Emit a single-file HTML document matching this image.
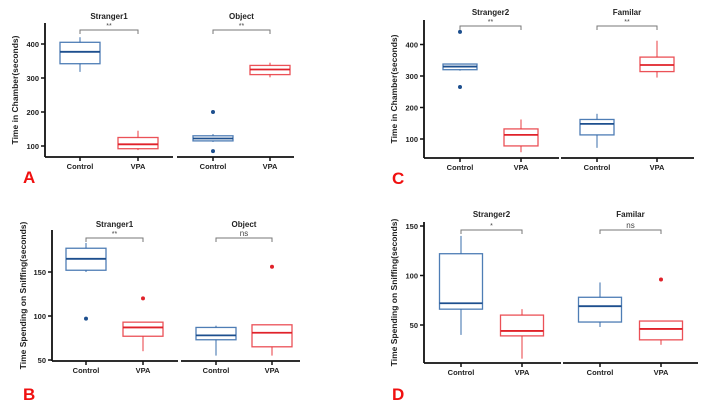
<!DOCTYPE html>
<html><head><meta charset="utf-8">
<style>
html,body{margin:0;padding:0;background:#fff;}
svg{display:block;font-family:"Liberation Sans",Arial,sans-serif;}
</style></head>
<body>
<svg id="fig" width="710" height="410" viewBox="0 0 710 410"></svg>
<script>
// ---- data ----
const groupLabels = ["Control","VPA"];
const aTitles = ["Stranger1","Object"];
const aStats = [ // [whiskerLo, q1, median, q3, whiskerHi]
  [318,342,377,405,420],[88,92,105,125,145],
  [112,115,122,130,135],[302,310,325,337,345]];
const aOutliers = [[],[],[200,85],[]];
const aSig = ["**","**"];
const aTicks = [100,200,300,400];

const bTitles = ["Stranger1","Object"];
const bStats = [[150,152,165,177,183],[60,77,87,93,93],[55,73,78,87,89],[55,65,81,90,90]];
const bOutliers = [[97],[120],[],[156]];
const bSig = ["**","ns"];
const bTicks = [50,100,150];

const cTitles = ["Stranger2","Familar"];
const cStats = [[317,320,330,338,338],[58,78,113,132,162],[72,113,148,162,180],[295,314,335,360,412]];
const cOutliers = [[440,265],[],[],[]];
const cSig = ["**","**"];
const cTicks = [100,200,300,400];

const dTitles = ["Stranger2","Familar"];
const dStats = [[40,66,72,122,140],[16,39,44,60,66],[48,53,69,78,93],[30,35,46,54,54]];
const dOutliers = [[],[],[],[96]];
const dSig = ["*","ns"];
const dTicks = [50,100,150];

const NS="http://www.w3.org/2000/svg";
const svg=document.getElementById('fig');
function mk(tag,attrs,parent){const e=document.createElementNS(NS,tag);for(const k in attrs)e.setAttribute(k,attrs[k]);(parent||svg).appendChild(e);return e;}

function panel(p){
  const g=mk('g',{});
  
  
  const y=v=>p.y0-(v-p.v0)*p.k;
  // y axis
  const ya=mk('line',{x1:p.ax,y1:p.top,x2:p.ax,y2:p.bot,stroke:'#111','stroke-width':1.8},g);
  
  
  p.ticks.forEach(t=>{
    mk('line',{x1:p.ax-4,y1:y(t),x2:p.ax,y2:y(t),stroke:'#111','stroke-width':1.5},g);
    const tx=mk('text',{x:p.ax-6,y:y(t)+3,'text-anchor':'end','font-size':7.5,'font-weight':'bold',fill:'#222'},g);
    tx.textContent=t;
    
    
  });
  const yl=mk('text',{transform:`translate(${p.ylx},${(p.top+p.bot)/2}) rotate(-90)`,'text-anchor':'middle','font-size':8.5,'font-weight':'bold',fill:'#222'},g);
  yl.textContent=p.ylabel;
  
  
  // x axis segments
  p.segs.forEach(s=>{
    const xa=mk('line',{x1:s[0],y1:p.bot,x2:s[1],y2:p.bot,stroke:'#111','stroke-width':1.8},g);
    
    
  });
  p.cx.forEach((cx,i)=>{
    mk('line',{x1:cx,y1:p.bot,x2:cx,y2:p.bot+4,stroke:'#111','stroke-width':1.5},g);
    const t=mk('text',{x:cx,y:p.bot+12,'text-anchor':'middle','font-size':7.5,'font-weight':'bold',fill:'#222'},g);
    t.textContent=groupLabels[i%2];
    
    
    const col=i%2?'#e8333a':'#2f66a8', med=i%2?'#e0222a':'#1d4f8e';
    const st=p.stats[i], w=p.bw/2;
    const bg=mk('g',{},g);
    
    
    mk('line',{x1:cx,y1:y(st[0]),x2:cx,y2:y(st[1]),stroke:col,'stroke-width':1.2,'stroke-opacity':0.8},bg);
    mk('line',{x1:cx,y1:y(st[3]),x2:cx,y2:y(st[4]),stroke:col,'stroke-width':1.2,'stroke-opacity':0.8},bg);
    mk('rect',{x:cx-w,y:y(st[3]),width:p.bw,height:y(st[1])-y(st[3]),fill:'none',stroke:col,'stroke-width':1.3,'stroke-opacity':0.85},bg);
    mk('line',{x1:cx-w,y1:y(st[2]),x2:cx+w,y2:y(st[2]),stroke:med,'stroke-width':1.8},bg);
    p.out[i].forEach(o=>{
      const c=mk('circle',{cx:cx,cy:y(o),r:2,fill:med},bg);
      
      
    });
  });
  for(let j=0;j<2;j++){
    const a=p.cx[2*j],b=p.cx[2*j+1];
    const tt=mk('text',{x:(a+b)/2,y:p.titleY,'text-anchor':'middle','font-size':8,'font-weight':'bold',fill:'#222'},g);
    tt.textContent=p.titles[j];
    
    
    const br=mk('path',{d:`M${a},${p.brY+4}V${p.brY}H${b}V${p.brY+4}`,fill:'none',stroke:'#777','stroke-width':1},g);
    
    
    const sg=mk('text',{x:(a+b)/2,y:p.brY-2,'text-anchor':'middle','font-size':p.sig[j]=='ns'?8:7,fill:'#444'},g);
    sg.textContent=p.sig[j];
    
    
  }
  const L=mk('text',{x:p.lx,y:p.ly,'font-size':17,'font-weight':'bold',fill:'#f01010'},g);
  L.textContent=p.letter;
  
  
}

panel({letter:'A',ax:45,top:23,bot:157,v0:100,y0:146,k:0.34,ticks:aTicks,segs:[[45,173],[177,294]],
  cx:[80,138,213,270],bw:40,stats:aStats,out:aOutliers,titles:aTitles,sig:aSig,titleY:19,brY:30,
  ylabel:'Time in Chamber(seconds)',ylx:18,lx:23,ly:183});
panel({letter:'B',ax:52,top:230,bot:361,v0:50,y0:360,k:0.88,ticks:bTicks,segs:[[52,178],[181,300]],
  cx:[86,143,216,272],bw:40,stats:bStats,out:bOutliers,titles:bTitles,sig:bSig,titleY:227,brY:238,
  ylabel:'Time Spending on Sniffing(seconds)',ylx:26,lx:23,ly:400});
panel({letter:'C',ax:424,top:20,bot:158,v0:100,y0:139,k:0.315,ticks:cTicks,segs:[[424,559],[561,694]],
  cx:[460,521,597,657],bw:34,stats:cStats,out:cOutliers,titles:cTitles,sig:cSig,titleY:15,brY:26,
  ylabel:'Time in Chamber(seconds)',ylx:397,lx:392,ly:184});
panel({letter:'D',ax:424,top:222,bot:363,v0:50,y0:325,k:0.99,ticks:dTicks,segs:[[424,561],[563,698]],
  cx:[461,522,600,661],bw:43,stats:dStats,out:dOutliers,titles:dTitles,sig:dSig,titleY:217,brY:230,
  ylabel:'Time Spending on Sniffing(seconds)',ylx:397,lx:392,ly:400});
</script>
</body></html>
